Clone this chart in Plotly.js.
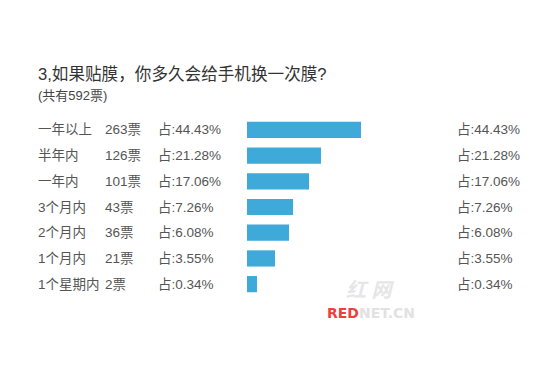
<!DOCTYPE html>
<html>
<head>
<meta charset="utf-8">
<script src="https://cdn.plot.ly/plotly-3.0.1.min.js"></script>
<style>html,body{margin:0;padding:0;background:#fff;}#chart{width:550px;height:366px;}</style>
</head>
<body>
<div id="chart"></div>
<script>
// Data
var categories = ["一年以上", "半年内", "一年内", "3个月内", "2个月内", "1个月内", "1个星期内"];
var votes = [263, 126, 101, 43, 36, 21, 2];
var percents = ["44.43%", "21.28%", "17.06%", "7.26%", "6.08%", "3.55%", "0.34%"];
// Drawn bar lengths (arbitrary units; not linear in percent)
var barLengths = [114, 74, 62, 46, 42, 28, 10];
var titleText = "3,如果贴膜，你多久会给手机换一次膜?";
var subtitleText = "(共有592票)";

var FONT = "'Liberation Sans', 'Noto Sans CJK SC', sans-serif";
var plotLeft = 247, plotW = 300;
function px(x) { return (x - plotLeft) / plotW; }

var annotations = [];
for (var i = 0; i < categories.length; i++) {
  var common = {xref: "paper", yref: "y", y: categories[i], showarrow: false,
    xanchor: "left", yanchor: "middle", font: {family: FONT, size: 13.5, color: "#555"}};
  annotations.push(Object.assign({}, common, {x: px(36), text: categories[i]}));
  annotations.push(Object.assign({}, common, {x: px(103), text: votes[i] + "票"}));
  annotations.push(Object.assign({}, common, {x: px(156), text: "占:" + percents[i]}));
  annotations.push(Object.assign({}, common, {x: px(455), text: "占:" + percents[i]}));
}
annotations.push({xref: "paper", yref: "paper", x: px(36), y: 1 + (117 - 75) / 180, xanchor: "left", yanchor: "middle",
  showarrow: false, text: titleText, font: {family: FONT, size: 16.6, color: "#333"}});
annotations.push({xref: "paper", yref: "paper", x: px(36), y: 1 + (117 - 95) / 180, xanchor: "left", yanchor: "middle",
  showarrow: false, text: subtitleText, font: {family: FONT, size: 13, color: "#444"}});
// watermark
annotations.push({xref: "paper", yref: "paper", x: px(370), y: 1 - (290 - 117) / 180, xanchor: "center", yanchor: "middle",
  showarrow: false, text: "<i><b>红 网</b></i>", font: {family: FONT, size: 20, color: "#e6e6e6"}});
annotations.push({xref: "paper", yref: "paper", x: px(325), y: 1 - (313 - 117) / 180, xanchor: "left", yanchor: "middle",
  showarrow: false, text: "<b><span style='color:#ee3f3f'>RED</span><span style='color:#e2e2e2'>NET.CN</span></b>",
  font: {family: "'DejaVu Sans', sans-serif", size: 14, color: "#e2e2e2"}});

var trace = {
  type: "bar", orientation: "h",
  y: categories, x: barLengths,
  marker: {color: "#3fa9d9"},
  width: 0.63,
  hoverinfo: "none"
};

var layout = {
  width: 550, height: 366,
  margin: {l: plotLeft, r: 550 - plotLeft - plotW, t: 117, b: 69},
  paper_bgcolor: "#fff", plot_bgcolor: "#fff",
  showlegend: false,
  xaxis: {range: [0, plotW], showgrid: false, zeroline: false, showticklabels: false, showline: false, ticks: ""},
  yaxis: {type: "category", autorange: false, range: [6.5, -0.5], showgrid: false, zeroline: false,
    showticklabels: false, showline: false, ticks: ""},
  annotations: annotations
};

Plotly.newPlot("chart", [trace], layout, {displayModeBar: false, staticPlot: true});
</script>
</body>
</html>
